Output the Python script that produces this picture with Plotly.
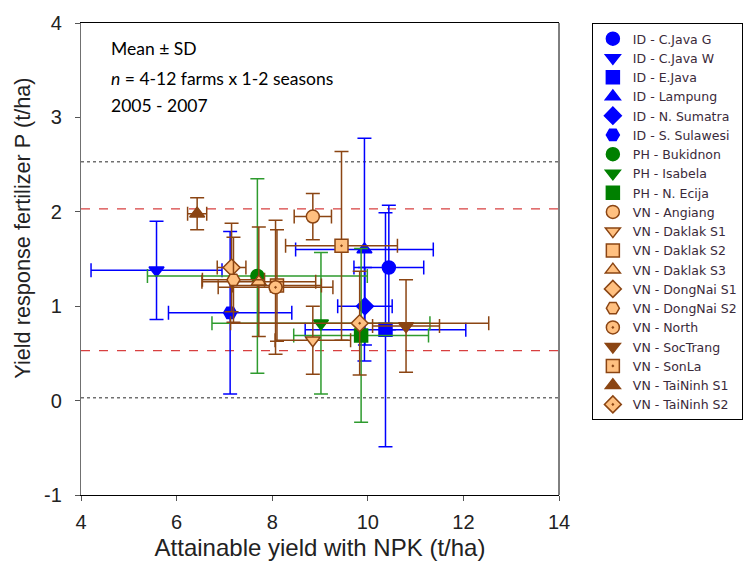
import plotly.graph_objects as go

names = ["ID - C.Java G", "ID - C.Java W", "ID - E.Java", "ID - Lampung", "ID - N. Sumatra",
         "ID - S. Sulawesi", "PH - Bukidnon", "PH - Isabela", "PH - N. Ecija",
         "VN - Angiang", "VN - Daklak S1", "VN - Daklak S2", "VN - Daklak S3",
         "VN - DongNai S1", "VN - DongNai S2", "VN - North", "VN - SocTrang",
         "VN - SonLa", "VN - TaiNinh S1", "VN - TaiNinh S2"]
x_mean = [10.44, 5.58, 10.37, 9.93, 9.94, 7.12, 7.69, 9.02, 9.86,
          8.85, 8.85, 8.10, 7.72, 7.15, 7.19, 8.07, 10.80, 9.45, 6.43, 9.83]
y_mean = [1.41, 1.38, 0.75, 1.60, 1.00, 0.93, 1.32, 0.82, 0.69,
          1.95, 0.64, 1.22, 1.26, 1.41, 1.28, 1.20, 0.79, 1.64, 1.98, 0.82]
x_sd = [0.73, 1.37, 1.68, 1.44, 0.57, 1.29, 2.30, 2.28, 1.41,
        0.39, 0.79, 0.93, 1.19, 0.30, 0.65, 1.20, 0.70, 1.17, 0.20, 2.70]
y_sd = [0.66, 0.52, 1.24, 1.18, 0.41, 0.86, 1.03, 0.75, 0.92,
        0.245, 0.36, 0.59, 0.58, 0.47, 0.45, 0.71, 0.49, 1.00, 0.17, 0.55]
symbols = ["circle", "triangle-down", "square", "triangle-up", "diamond", "hexagon2",
           "circle", "triangle-down", "square",
           "circle", "triangle-down", "square", "triangle-up", "diamond", "hexagon2",
           "circle-dot", "triangle-down-dot", "square-dot", "triangle-up-dot", "diamond-dot"]
ref_lines_gray = [2.53, 0.03]
ref_lines_red = [2.03, 0.53]
y_ticks = [-1, 0, 1, 2, 3, 4]
y_ticktext = ["-1", "0", "1", "2", "3", "4"]
x_ticks = [4, 6, 8, 10, 12, 14]
note_lines = ["Mean ± SD", "<i>n</i> = 4-12 farms x 1-2 seasons", "2005 - 2007"]

BLUE = "#0000FF"
GREEN_M = "#008000"
GREEN_E = "#2E9B2E"
BROWN = "#8B4513"
PEACH = "#FFC080"

fig = go.Figure()
for i, n in enumerate(names):
    if n.startswith("ID"):
        fill, line, ecol = BLUE, BLUE, BLUE
    elif n.startswith("PH"):
        fill, line, ecol = GREEN_M, GREEN_M, GREEN_E
    else:
        fill, line, ecol = PEACH, BROWN, BROWN
        if n in ("VN - SocTrang", "VN - TaiNinh S1"):
            fill = BROWN
    fig.add_trace(go.Scatter(
        x=[x_mean[i]], y=[y_mean[i]], mode="markers", name=n,
        marker=dict(symbol=symbols[i], size=13, color=fill,
                    line=dict(color=line, width=1.5)),
        error_x=dict(type="data", array=[x_sd[i]], color=ecol, thickness=1.5, width=7),
        error_y=dict(type="data", array=[y_sd[i]], color=ecol, thickness=1.5, width=7),
    ))

shapes = []
for v in ref_lines_gray:
    shapes.append(dict(type="line", xref="paper", x0=0, x1=1, yref="y", y0=v, y1=v,
                       line=dict(color="#707070", width=1.3, dash="dot"), layer="below"))
for v in ref_lines_red:
    shapes.append(dict(type="line", xref="paper", x0=0, x1=1, yref="y", y0=v, y1=v,
                       line=dict(color="#D84040", width=1.3, dash="dash"), layer="below"))
shapes.append(dict(type="line", xref="paper", x0=1, x1=1, yref="paper", y0=0, y1=1,
                   line=dict(color="black", width=1)))

fig.update_layout(
    width=755, height=575,
    margin=dict(l=81, r=194, t=15, b=80),
    plot_bgcolor="white", paper_bgcolor="white",
    font=dict(family="Liberation Sans, Arial, sans-serif", color="#222222"),
    shapes=shapes,
    showlegend=True,
    legend=dict(x=(594-81)/480, y=1.0, xanchor="left", yanchor="top",
                bordercolor="black", borderwidth=1, bgcolor="white",
                font=dict(size=12.5, color="#3a2a3a", family="DejaVu Sans, Liberation Sans"),
                itemwidth=30),
    xaxis=dict(range=[4, 14], tickvals=x_ticks, showgrid=False, zeroline=False,
               showline=True, linecolor="black", linewidth=1, mirror=True,
               ticks="outside", ticklen=5, tickcolor="#555555",
               tickfont=dict(size=20, color="#222222"), ticklabelstandoff=4,
               title=dict(text="Attainable yield with NPK (t/ha)", font=dict(size=24, color="#222222"),
                          standoff=7)),
    yaxis=dict(range=[-1, 4], tickvals=y_ticks, ticktext=y_ticktext, showgrid=False, zeroline=False,
               showline=True, linecolor="#707070", linewidth=1.3,
               ticks="outside", ticklen=5, tickcolor="#555555",
               tickfont=dict(size=20, color="#222222"), ticklabelstandoff=9),
)
fig.add_annotation(xref="paper", yref="paper", x=(22-81)/480, y=(495-224)/480,
                   xanchor="center", yanchor="middle", textangle=-90,
                   text="Yield response fertilizer P (t/ha)", showarrow=False,
                   font=dict(size=21.7, color="#222222", family="Liberation Sans, Arial"))
for k, (txt, ypx) in enumerate(zip(note_lines, [41, 71, 99])):
    fig.add_annotation(xref="paper", yref="paper", x=(109-81)/480, y=(495-ypx)/480,
                       xanchor="left", yanchor="middle", text=txt, showarrow=False, align="left",
                       font=dict(family="Lato, sans-serif", size=17.5, color="black"))

fig.write_html("out.html")
